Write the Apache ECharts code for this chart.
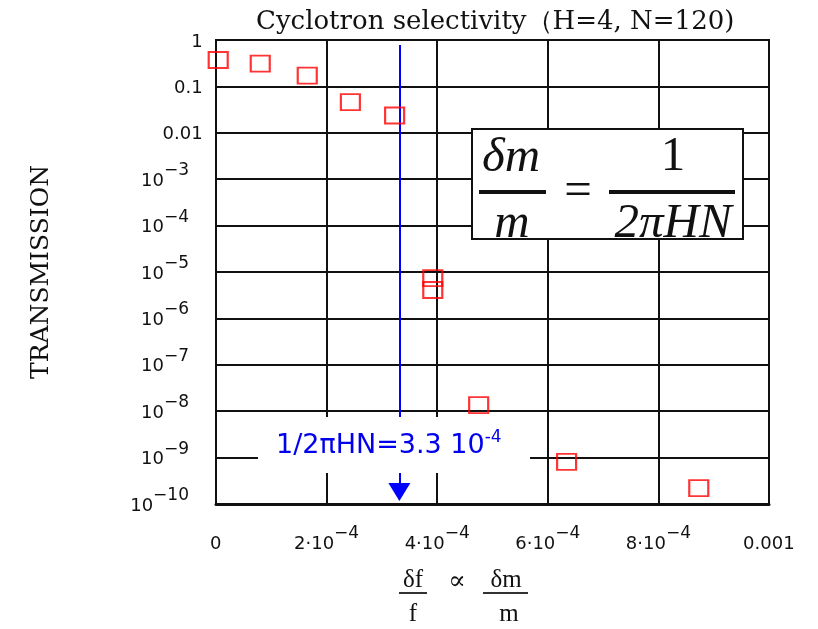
<!DOCTYPE html>
<html>
<head>
<meta charset="utf-8">
<script src="https://cdn.jsdelivr.net/npm/echarts@6/dist/echarts.min.js"></script>
<style>
  html, body { margin: 0; padding: 0; background: #fff; }
  #chart { width: 818px; height: 629px; }
</style>
</head>
<body>
<div id="chart"></div>
<script>
// measured points (relative mass offset, transmission)
const offsets = [4e-6, 8.0e-5, 1.65e-4, 2.43e-4, 3.23e-4, 3.92e-4, 3.92e-4, 4.75e-4, 6.34e-4, 8.73e-4];
const transmission = [0.37, 0.31, 0.17, 0.046, 0.0236, 7.4e-6, 4.1e-6, 1.35e-8, 8.1e-10, 2.2e-10];

// 1/(2*pi*H*N) with H=4, N=120
const selectivity = 3.316e-4;

const xTickBase = ['0', '2·10', '4·10', '6·10', '8·10', '0.001'];
const xTickExp = ['', '−4', '−4', '−4', '−4', ''];
const yTickBase = ['1', '0.1', '0.01', '10', '10', '10', '10', '10', '10', '10', '10'];
const yTickExp = ['', '', '', '−3', '−4', '−5', '−6', '−7', '−8', '−9', '−10'];

const labelFont = 'DejaVu Sans';
const serif = 'Liberation Serif';
const wideSerif = 'DejaVu Serif';

const chart = echarts.init(document.getElementById('chart'));

// base text sits in a tall line, exponent in a tiny line glued to the top
function supRich() {
  return {
    b: { fontFamily: labelFont, fontSize: 18, color: '#111', lineHeight: 28, verticalAlign: 'bottom' },
    s: { fontFamily: labelFont, fontSize: 17, color: '#111', lineHeight: 6, verticalAlign: 'top' },
    z: { fontFamily: labelFont, fontSize: 1, color: '#fff', lineHeight: 6, verticalAlign: 'top' },
    g: { fontSize: 10, width: 14, lineHeight: 28 }
  };
}
function tickText(base, exp, pad) {
  if (exp) return '{b|' + base + '}{s|' + exp + '}' + (pad ? '{g| }' : '');
  return '{b|' + base + '}{z| }';
}

chart.setOption({
  animation: false,
  title: {
    text: 'Cyclotron selectivity（H=4, N=120)',
    left: 251,
    top: 4,
    textStyle: { fontFamily: wideSerif, fontSize: 26, fontWeight: 'normal', color: '#111' }
  },
  grid: {
    left: 216,
    top: 40,
    width: 553,
    height: 464,
    show: true,
    borderColor: '#111',
    borderWidth: 2,
    backgroundColor: '#fff'
  },
  xAxis: {
    type: 'value',
    min: 0,
    max: 0.001,
    interval: 0.0002,
    axisLine: { show: true, onZero: false, lineStyle: { color: '#111', width: 3 } },
    axisTick: { show: false },
    splitLine: { show: true, lineStyle: { color: '#111', width: 2 } },
    axisLabel: {
      margin: 21,
      formatter: function (v) {
        const i = Math.round(v / 0.0002);
        return tickText(xTickBase[i], xTickExp[i], false);
      },
      rich: supRich()
    }
  },
  yAxis: {
    type: 'log',
    logBase: 10,
    min: 1e-10,
    max: 1,
    interval: 1,
    splitNumber: 10,
    name: 'TRANSMISSION',
    nameLocation: 'middle',
    nameGap: 162,
    nameTextStyle: { fontFamily: wideSerif, fontSize: 25, color: '#111' },
    axisLine: { show: true, lineStyle: { color: '#111', width: 2 } },
    axisTick: { show: false },
    splitLine: { show: true, lineStyle: { color: '#111', width: 2 } },
    axisLabel: {
      margin: 13,
      padding: [0, 0, 6, 0],
      formatter: function (v) {
        const i = Math.round(-Math.log10(v));
        return tickText(yTickBase[i], yTickExp[i], true);
      },
      rich: supRich()
    }
  },
  series: [{
    type: 'scatter',
    data: offsets.map((x, i) => [x, transmission[i]]),
    symbol: 'rect',
    symbolSize: [19, 16],
    itemStyle: { color: 'transparent', borderColor: '#ff0000', borderWidth: 2 },
    z: 5,
    markLine: {
      silent: true,
      symbol: 'none',
      label: { show: false },
      lineStyle: { color: '#0000ff', width: 2, type: 'solid' },
      data: [[{ coord: [selectivity, 0.78] }, { coord: [selectivity, 2e-10] }]]
    },
    markPoint: {
      silent: true,
      symbol: 'triangle',
      symbolRotate: 180,
      symbolSize: [22, 18],
      symbolOffset: [0, 2],
      itemStyle: { color: '#0000ff' },
      label: { show: false },
      data: [{ coord: [selectivity, 2e-10] }]
    }
  }],
  graphic: [
    // annotation of the selectivity line
    { type: 'rect', z: 50, shape: { x: 258, y: 417, width: 272, height: 56 }, style: { fill: '#fff' } },
    {
      type: 'text', z: 51, x: 276, y: 429,
      style: {
        text: '{a|1/2πHN=3.3 10}{e|-4}',
        rich: {
          a: { fontFamily: labelFont, fontSize: 27, fill: '#0000ee', lineHeight: 30, verticalAlign: 'bottom' },
          e: { fontFamily: labelFont, fontSize: 17, fill: '#0000ee', lineHeight: 6, verticalAlign: 'top' }
        }
      }
    },
    // formula box
    { type: 'rect', z: 60, shape: { x: 472, y: 129, width: 271, height: 110 }, style: { fill: '#fff', stroke: '#111', lineWidth: 2 } },
    { type: 'text', z: 61, x: 511, y: 158, style: { text: 'δm', fontFamily: serif, fontStyle: 'italic', fontSize: 49, fill: '#111', align: 'center', verticalAlign: 'middle' } },
    { type: 'rect', z: 61, shape: { x: 479, y: 190, width: 67, height: 4 }, style: { fill: '#111' } },
    { type: 'text', z: 61, x: 512, y: 224, style: { text: 'm', fontFamily: serif, fontStyle: 'italic', fontSize: 49, fill: '#111', align: 'center', verticalAlign: 'middle' } },
    { type: 'text', z: 61, x: 578, y: 192, style: { text: '=', fontFamily: serif, fontSize: 49, fill: '#111', align: 'center', verticalAlign: 'middle' } },
    { type: 'rect', z: 61, shape: { x: 609, y: 190, width: 126, height: 4 }, style: { fill: '#111' } },
    { type: 'text', z: 61, x: 673, y: 157, style: { text: '1', fontFamily: serif, fontSize: 49, fill: '#111', align: 'center', verticalAlign: 'middle' } },
    { type: 'text', z: 61, x: 673, y: 224, style: { text: '2πHN', fontFamily: serif, fontStyle: 'italic', fontSize: 49, fill: '#111', align: 'center', verticalAlign: 'middle' } },
    // x axis name: δf/f ∝ δm/m
    { type: 'text', x: 413, y: 580, style: { text: 'δf', fontFamily: serif, fontSize: 25, fill: '#111', align: 'center', verticalAlign: 'middle' } },
    { type: 'rect', shape: { x: 399, y: 592, width: 28, height: 2 }, style: { fill: '#333' } },
    { type: 'text', x: 413, y: 614, style: { text: 'f', fontFamily: serif, fontSize: 25, fill: '#111', align: 'center', verticalAlign: 'middle' } },
    { type: 'text', x: 457, y: 582, style: { text: '∝', fontFamily: wideSerif, fontSize: 26, fill: '#111', align: 'center', verticalAlign: 'middle' } },
    { type: 'text', x: 506, y: 580, style: { text: 'δm', fontFamily: serif, fontSize: 25, fill: '#111', align: 'center', verticalAlign: 'middle' } },
    { type: 'rect', shape: { x: 483, y: 592, width: 45, height: 2 }, style: { fill: '#333' } },
    { type: 'text', x: 509, y: 614, style: { text: 'm', fontFamily: serif, fontSize: 25, fill: '#111', align: 'center', verticalAlign: 'middle' } }
  ]
});
</script>
</body>
</html>
